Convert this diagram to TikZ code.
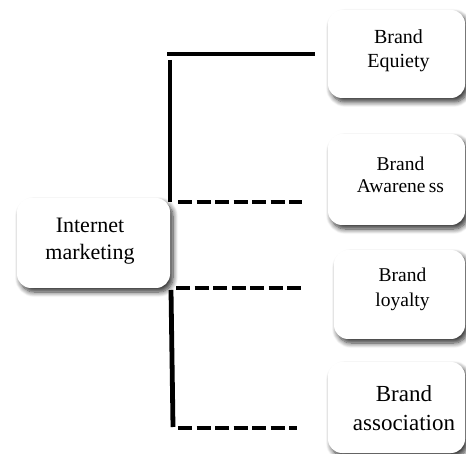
\documentclass[tikz,border=0pt]{standalone}
\usepackage{fontspec}
\setmainfont{Liberation Serif}
\usetikzlibrary{shadows.blur}
\begin{document}
\begin{tikzpicture}[x=1pt,y=-1pt,
  box/.style={draw=none, fill=white, rounded corners=14pt, inner sep=0pt,
    blur shadow={shadow xshift=3pt, shadow yshift=-4pt, shadow blur radius=5pt,
      shadow blur steps=8, shadow opacity=80}},
  boxtext/.style={align=center, inner sep=0pt},
  solidlink/.style={line width=4.8pt, black},
  dashlink/.style={line width=4.8pt, black, dash pattern=on 14pt off 4.5pt}]
\useasboundingbox (0,0) rectangle (466,454);

% rounded boxes
\node[box, minimum width=153pt, minimum height=90pt] (im) at (93.5,243) {};
\node[box, minimum width=137pt, minimum height=88pt] (eq) at (396.5,54) {};
\node[box, minimum width=137pt, minimum height=91pt] (aw) at (396.5,179.5) {};
\node[box, minimum width=131pt, minimum height=89pt] (lo) at (399.5,294.5) {};
\node[box, minimum width=137pt, minimum height=91pt] (as) at (396.5,407.5) {};

% box captions
\node[boxtext, font=\fontsize{22}{27}\selectfont] (imt) at (90,241.6) {Internet\\marketing};
\node[boxtext, font=\fontsize{20}{24}\selectfont] (eqt) at (398.5,50.3) {Brand\\Equiety};
\node[boxtext, font=\fontsize{19.5}{22}\selectfont] (awt) at (400.5,174.4) {Brand\\Awarene\,ss};
\node[boxtext, font=\fontsize{19.5}{25}\selectfont] (lot) at (402.5,289.6) {Brand\\loyalty};
\node[boxtext, font=\fontsize{23}{28.3}\selectfont] (ast) at (404,408) {Brand\\association};

% upper branch
\coordinate (u0) at (167,54);
\coordinate (u1) at (170,60);
\coordinate (u2) at (170,202);
\coordinate (u3) at (178,202);
\coordinate (u4) at (302,202);
\draw[solidlink] (u0) -- ([xshift=-13pt]eq.west);
\draw[solidlink] (u1) -- (u2);
\draw[dashlink] (u3) -- (u4);

% lower branch
\coordinate (l0) at (176,288);
\coordinate (l1) at (302,288);
\coordinate (l2) at (171,290);
\coordinate (l3) at (173,427);
\coordinate (l4) at (178,428);
\coordinate (l5) at (297,428);
\draw[dashlink] (l0) -- (l1);
\draw[solidlink] (l2) -- (l3);
\draw[dashlink] (l4) -- (l5);
\end{tikzpicture}
\end{document}
